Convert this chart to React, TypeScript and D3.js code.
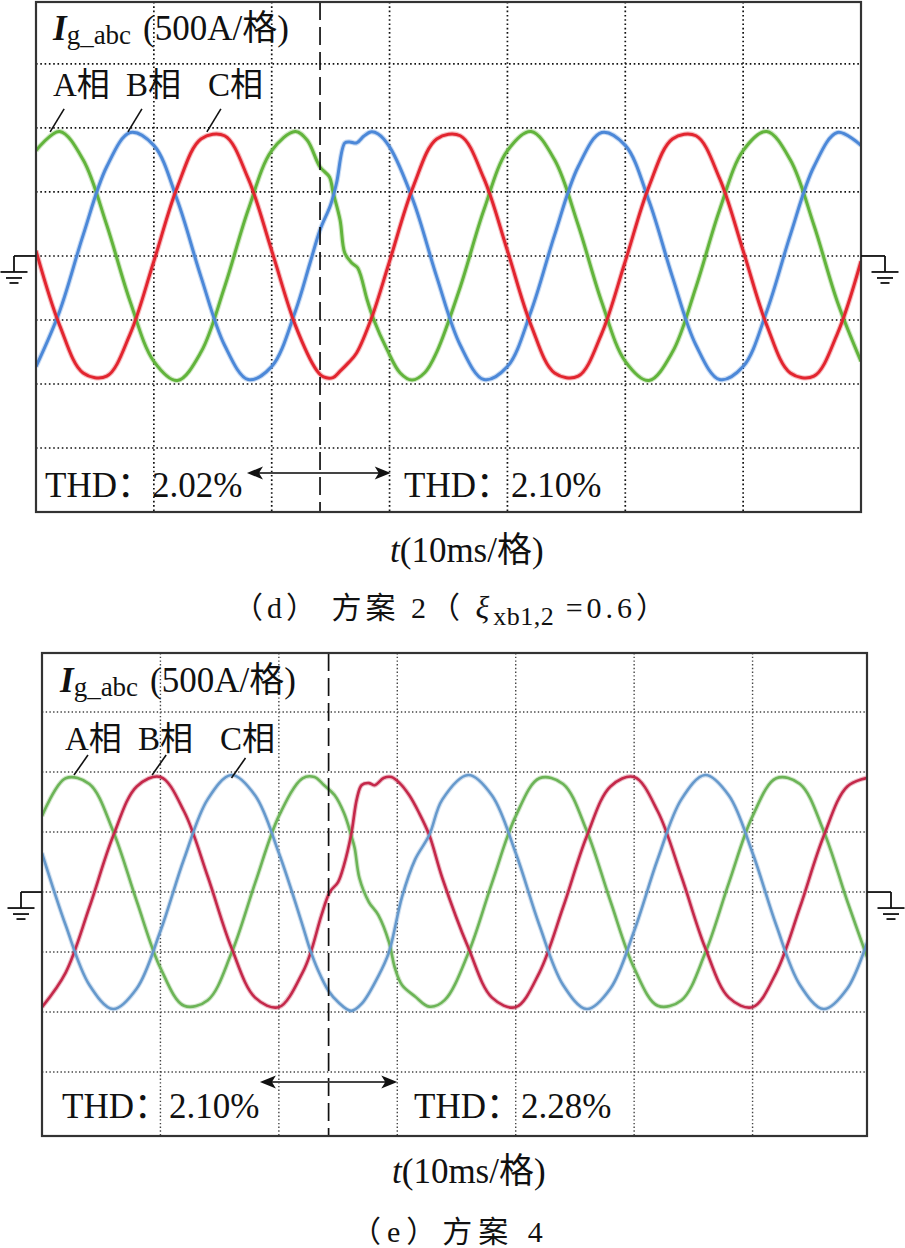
import React from 'react';
import * as d3 from 'd3';

type Pt = [number, number];

// ---------- data: [time (ms), current (A)] ----------
// Panel (d): A = green, B = blue, C = red
const dPhaseA: Pt[] = [[0,823],[2,973],[4,751],[6,242],[8,-359],[10,-823],[12,-973],[14,-751],[16,-242],[18,359],[20,823],[22,973],[23,906],[24.1,695],[24.9,617],[25.2,500],[25.8,281],[26.2,23],[26.8,-55],[27.3,-94],[28.1,-344],[28.6,-484],[29.8,-734],[30.9,-914],[31.9,-969],[33,-910],[34,-751],[36,-242],[38,359],[40,823],[42,973],[44,751],[46,242],[48,-359],[50,-823],[52,-973],[54,-751],[56,-242],[58,359],[60,823],[62,973],[64,751],[66,242],[68,-359],[70,-823]];
const dPhaseB: Pt[] = [[0,-864],[2,-433],[4,163],[6,697],[8,965],[10,864],[12,433],[14,-163],[16,-697],[18,-965],[20,-864],[22,-433],[23.25,-55],[24.1,203],[25,400],[25.5,570],[26.2,883],[26.6,891],[27.2,883],[27.8,935],[28.4,969],[29,955],[30,852],[32,433],[34,-163],[36,-697],[38,-965],[40,-864],[42,-433],[44,163],[46,697],[48,965],[50,864],[52,433],[54,-163],[56,-697],[58,-965],[60,-864],[62,-433],[64,163],[66,697],[68,965],[70,864]];
const dPhaseC: Pt[] = [[0,41],[2,-540],[4,-914],[6,-939],[8,-606],[10,-41],[12,540],[14,914],[16,939],[18,606],[20,41],[22,-540],[23.8,-891],[24.4,-945],[25.2,-950],[25.8,-900],[26.5,-835],[27.2,-758],[28.5,-477],[30,-41],[32,540],[34,914],[36,939],[38,606],[40,41],[42,-540],[44,-914],[46,-939],[48,-606],[50,-41],[52,540],[54,914],[56,939],[58,606],[60,41],[62,-540],[64,-914],[66,-939],[68,-606],[70,-41]];

// Panel (e): A = green, B = red, C = blue
const ePhaseA: Pt[] = [[0,633],[2,948],[4,901],[6,509],[8,-77],[10,-633],[12,-948],[14,-901],[16,-509],[18,77],[20,633],[22,948],[23,958],[23.8,892],[24.7,808],[25.5,658],[26.1,475],[26.4,367],[26.8,117],[27.6,-83],[28.4,-192],[29.3,-417],[29.8,-633],[30.4,-775],[31.5,-870],[32.7,-955],[34,-901],[36,-509],[38,77],[40,633],[42,948],[44,901],[46,509],[48,-77],[50,-633],[52,-948],[54,-901],[56,-509],[58,77],[60,633],[62,948],[64,901],[66,509],[68,-77],[70,-633]];
const ePhaseB: Pt[] = [[0,-959],[2,-671],[4,-127],[6,465],[8,880],[10,959],[12,671],[14,127],[16,-465],[18,-880],[20,-959],[22,-671],[22.7,-500],[23.6,-192],[24.3,0],[25,83],[25.5,225],[26.1,475],[26.6,783],[27,892],[27.6,908],[28.1,890],[28.85,950],[29.5,958],[30.2,908],[31,808],[31.8,667],[32.7,475],[33.8,117],[36,-465],[38,-880],[40,-959],[42,-671],[44,-127],[46,465],[48,880],[50,959],[52,671],[54,127],[56,-465],[58,-880],[60,-959],[62,-671],[64,-127],[66,465],[68,880],[70,959]];
const ePhaseC: Pt[] = [[0,325],[2,-277],[4,-774],[6,-975],[8,-804],[10,-325],[12,277],[14,774],[16,975],[18,804],[20,325],[22,-277],[22.6,-470],[23.3,-650],[24.2,-825],[25,-917],[26.1,-990],[27,-930],[28.4,-700],[29.3,-500],[30.4,-40],[31.5,270],[32.7,475],[33.8,770],[36,975],[38,804],[40,325],[42,-277],[44,-774],[46,-975],[48,-804],[50,-325],[52,277],[54,774],[56,975],[58,804],[60,325],[62,-277],[64,-774],[66,-975],[68,-804],[70,-325]];

const timeGrid = [10, 20, 30, 40, 50, 60];
const currentGrid = [-1500, -1000, -500, 0, 500, 1000, 1500];
const phaseLabels = ['A相', 'B相', 'C相'];
const thdD = ['THD：2.02%', 'THD：2.10%'];
const thdE = ['THD：2.10%', 'THD：2.28%'];
const switchTimeD = 24.1;
const switchTimeE = 24.2;
const arrowSpanD: Pt = [17.9, 30.1];
const arrowSpanE: Pt = [18.4, 30.0];
const leaderEndD: Pt[] = [[1.2, 970], [7.8, 970], [14.5, 970]];
const leaderEndE: Pt[] = [[2.7, 975], [9.3, 975], [16.0, 950]];

const serif = "'Liberation Serif','Times New Roman','Noto Sans CJK SC',serif";

type PanelCfg = {
  frame: { x0: number; x1: number; y0: number; y1: number };
  xRange: [number, number];
  yDomain: [number, number];
  series: { data: Pt[]; color: string }[];
  lineWidth: number;
  gridColor: string;
  gridWidth: number;
  gridDash: string;
  switchT: number;
  arrowSpan: Pt;
  arrowOffset: number;
  thd: string[];
  thdX: number[];
  thdOffset: number;
  leaderEnds: Pt[];
  leaderDx: number;
  leaderDy: number;
  labelX: number[];
  labelY: number;
  titleX: number;
  titleY: number;
  groundL: number;
  groundR: number;
};

const cfgD: PanelCfg = {
  frame: { x0: 36, x1: 861, y0: 2, y1: 512 },
  xRange: [36, 861],
  yDomain: [-2000, 1984],
  series: [
    { data: dPhaseA, color: '#62b43c' },
    { data: dPhaseB, color: '#4c88d8' },
    { data: dPhaseC, color: '#e2252f' },
  ],
  lineWidth: 3.6,
  gridColor: '#111',
  gridWidth: 1.7,
  gridDash: '1.6 2.7',
  switchT: switchTimeD,
  arrowSpan: arrowSpanD,
  arrowOffset: 39,
  thd: thdD,
  thdX: [45, 404],
  thdOffset: 15,
  leaderEnds: leaderEndD,
  leaderDx: 14,
  leaderDy: -23,
  labelX: [53, 126, 208],
  labelY: 96,
  titleX: 53,
  titleY: 40,
  groundL: 14,
  groundR: 885,
};

const cfgE: PanelCfg = {
  frame: { x0: 42, x1: 867, y0: 653, y1: 1136 },
  xRange: [42, 871],
  yDomain: [-2033, 1992],
  series: [
    { data: ePhaseA, color: '#6cb457' },
    { data: ePhaseB, color: '#c4284a' },
    { data: ePhaseC, color: '#6699cc' },
  ],
  lineWidth: 3.2,
  gridColor: '#444',
  gridWidth: 1.4,
  gridDash: '1.4 2.3',
  switchT: switchTimeE,
  arrowSpan: arrowSpanE,
  arrowOffset: 54,
  thd: thdE,
  thdX: [62, 414],
  thdOffset: 18,
  leaderEnds: leaderEndE,
  leaderDx: 14,
  leaderDy: -20,
  labelX: [65, 138, 220],
  labelY: 750,
  titleX: 60,
  titleY: 692,
  groundL: 21,
  groundR: 891,
};

function Ground({ stemX, y, edgeX }: { stemX: number; y: number; edgeX: number }) {
  const s = { stroke: '#111', strokeWidth: 1.8, fill: 'none' } as const;
  return (
    <g>
      <line x1={stemX} y1={y} x2={edgeX} y2={y} {...s} />
      <line x1={stemX} y1={y} x2={stemX} y2={y + 16} {...s} />
      <line x1={stemX - 13.5} y1={y + 16} x2={stemX + 13.5} y2={y + 16} {...s} />
      <line x1={stemX - 8} y1={y + 22} x2={stemX + 8} y2={y + 22} {...s} />
      <line x1={stemX - 4.5} y1={y + 27} x2={stemX + 4.5} y2={y + 27} {...s} />
    </g>
  );
}

function Arrow({ xa, xb, y }: { xa: number; xb: number; y: number }) {
  const L = 16, W = 6.5, N = 4;
  return (
    <g>
      <line x1={xa + 6} y1={y} x2={xb - 6} y2={y} stroke="#444" strokeWidth={2.2} />
      <polygon points={`${xa},${y} ${xa + L},${y - W} ${xa + L - N},${y} ${xa + L},${y + W}`} fill="#111" />
      <polygon points={`${xb},${y} ${xb - L},${y - W} ${xb - L + N},${y} ${xb - L},${y + W}`} fill="#111" />
    </g>
  );
}

function Panel({ p, id }: { p: PanelCfg; id: string }) {
  const { frame } = p;
  const x = d3.scaleLinear().domain([0, 70]).range(p.xRange);
  const y = d3.scaleLinear().domain(p.yDomain).range([frame.y1, frame.y0]);
  const line = d3
    .line<Pt>()
    .x((d) => x(d[0]))
    .y((d) => y(d[1]))
    .curve(d3.curveCatmullRom.alpha(0.5));
  const y0 = y(0);
  const xs = x(p.switchT);
  return (
    <g>
      <defs>
        <clipPath id={id}>
          <rect x={frame.x0} y={frame.y0} width={frame.x1 - frame.x0} height={frame.y1 - frame.y0} />
        </clipPath>
      </defs>
      <rect x={frame.x0} y={frame.y0} width={frame.x1 - frame.x0} height={frame.y1 - frame.y0} fill="#fff" />
      {timeGrid.map((t) => (
        <line key={'v' + t} x1={x(t)} x2={x(t)} y1={frame.y0} y2={frame.y1}
          stroke={p.gridColor} strokeWidth={p.gridWidth} strokeDasharray={p.gridDash} />
      ))}
      {currentGrid.map((a) => (
        <line key={'h' + a} x1={frame.x0} x2={frame.x1} y1={y(a)} y2={y(a)}
          stroke={p.gridColor} strokeWidth={p.gridWidth} strokeDasharray={p.gridDash} />
      ))}
      <g clipPath={`url(#${id})`}>
        {p.series.map((s, i) => (
          <path key={'u' + i} d={line(s.data) || ''} fill="none" stroke={s.color}
            strokeWidth={p.lineWidth + 1.6} strokeOpacity={0.3} strokeLinejoin="round" />
        ))}
        {p.series.map((s, i) => (
          <path key={'s' + i} d={line(s.data) || ''} fill="none" stroke={s.color}
            strokeWidth={p.lineWidth - 0.6} strokeLinejoin="round" />
        ))}
      </g>
      <line x1={xs} x2={xs} y1={frame.y0} y2={frame.y1} stroke="#111" strokeWidth={1.7} strokeDasharray="18 7" />
      <rect x={frame.x0} y={frame.y0} width={frame.x1 - frame.x0} height={frame.y1 - frame.y0}
        fill="none" stroke="#333" strokeWidth={2.2} />
      <Ground stemX={p.groundL} y={y0} edgeX={frame.x0} />
      <Ground stemX={p.groundR} y={y0} edgeX={frame.x1} />
      <text x={p.titleX} y={p.titleY} fontFamily={serif} fontSize={35} fill="#111">
        <tspan fontWeight="bold" fontStyle="italic">I</tspan>
        <tspan fontSize={27} dy={4}>g_abc</tspan>
      </text>
      <text x={p.titleX + 90} y={p.titleY} fontFamily={serif} fontSize={35} fill="#111">(500A/格)</text>
      {phaseLabels.map((lab, i) => (
        <text key={lab} x={p.labelX[i]} y={p.labelY} fontFamily={serif} fontSize={33} fill="#111">{lab}</text>
      ))}
      {p.leaderEnds.map((e, i) => (
        <line key={'l' + i} x1={x(e[0])} y1={y(e[1])} x2={x(e[0]) + p.leaderDx} y2={y(e[1]) + p.leaderDy}
          stroke="#111" strokeWidth={1.6} />
      ))}
      <Arrow xa={x(p.arrowSpan[0])} xb={x(p.arrowSpan[1])} y={frame.y1 - p.arrowOffset} />
      {p.thd.map((t, i) => (
        <text key={t + i} x={p.thdX[i]} y={frame.y1 - p.thdOffset} fontFamily={serif} fontSize={35} fill="#111">{t}</text>
      ))}
    </g>
  );
}

export default function App() {
  return (
    <svg width={905} height={1248} style={{ position: 'absolute', left: 0, top: 0, background: '#fff' }}>
      <rect x={0} y={0} width={905} height={1248} fill="#fff" />
      <Panel p={cfgD} id="clipD" />
      <Panel p={cfgE} id="clipE" />
      <text x={390} y={562} fontFamily={serif} fontSize={35} fill="#111">
        <tspan fontStyle="italic">t</tspan>(10ms/格)
      </text>
      <text x={392} y={1183} fontFamily={serif} fontSize={35} fill="#111">
        <tspan fontStyle="italic">t</tspan>(10ms/格)
      </text>
      <text x={233} y={618} fontFamily={serif} fontSize={30} fill="#111" letterSpacing={4}>（d） 方案 2（ <tspan fontStyle="italic" fontSize={32}>ξ</tspan><tspan dy={7} fontSize={26} letterSpacing={0.5}>xb1,2</tspan><tspan dy={-7}> =0.6）</tspan></text>
      <text x={351} y={1242} fontFamily={serif} fontSize={30} fill="#111" letterSpacing={6}>（e）方案 4</text>
    </svg>
  );
}
